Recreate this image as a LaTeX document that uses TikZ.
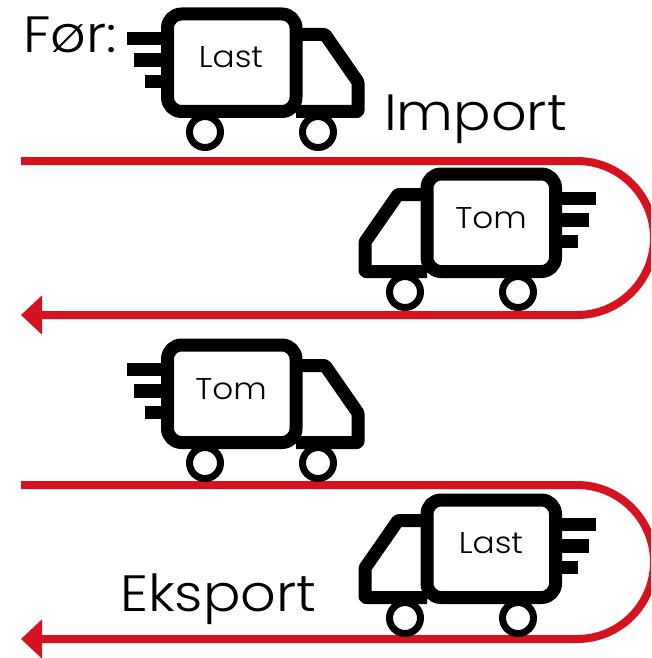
\documentclass[tikz,border=0pt]{standalone}
\usepackage{fontspec}
\setmainfont{Poppins}[UprightFont=* Light, FakeStretch=1.09]
\usepackage{xcolor}
\usetikzlibrary{arrows.meta}
\definecolor{trackred}{HTML}{D5121E}

\begin{document}
\begin{tikzpicture}[
  x=1pt, y=-1pt,
  body/.style  = {draw=black, line width=13pt, line join=round, fill=white},
  cab/.style   = {draw=black, line width=13pt, line join=round, rounded corners=1pt},
  wheel/.style = {draw=black, line width=7pt, fill=white},
  speed/.style = {fill=black},
  cargo/.style = {font=\fontsize{30}{30}\selectfont, inner sep=0pt},
  head/.style  = {font=\fontsize{51}{51}\selectfont, anchor=base west, inner sep=0pt},
  track/.style = {draw=trackred, line width=8pt,
                  -{Triangle[length=21pt, width=38pt]}},
]

\newcommand{\truck}[3]{%  #1 = x origin, #2 = x scale, #3 = y shift
  \begin{scope}[xshift=#1pt, xscale=#2, yshift=-#3pt]
    \draw[wheel] (205,132) circle[radius=15.5];
    \draw[wheel] (318,132) circle[radius=15.5];
    \fill[speed] (127,32) rectangle (165,45);
    \fill[speed] (134,53) rectangle (165,67);
    \fill[speed] (145,75) rectangle (165,88);
    \draw[cab] (296,34.5) -- (325,34.5) -- (358,82) -- (358,111.5) -- (296,111.5);
    \draw[body, rounded corners=14pt] (167.5,14) rectangle (296,111.5);
  \end{scope}
}

\clip (0,0) rectangle (651,658);

% ======================= import ========================================
\coordinate (imA) at (21,161);
\coordinate (imB) at (577,161);
\coordinate (imC) at (21,315);
\draw[track] (imA) -- (imB) arc[start angle=-90, end angle=90, radius=77] -- (imC);

\truck{0}{1}{0}
\node[cargo] (last1) at (231,57) {Last};
\node[head] (foer) at (23,53) {Før:};
\node[head] (import) at (384,131) {Import};

\truck{723}{-1}{160}
\node[cargo] (tom1) at (491,218) {Tom};

% ======================= eksport =======================================
\coordinate (ekA) at (21,485);
\coordinate (ekB) at (577,485);
\coordinate (ekC) at (21,639);
\draw[track] (ekA) -- (ekB) arc[start angle=-90, end angle=90, radius=77] -- (ekC);

\truck{0}{1}{331}
\node[cargo] (tom2) at (231,389) {Tom};

\truck{723}{-1}{486}
\node[cargo] (last2) at (491,543) {Last};
\node[head] (eksport) at (120,611) {Eksport};

\end{tikzpicture}
\end{document}
